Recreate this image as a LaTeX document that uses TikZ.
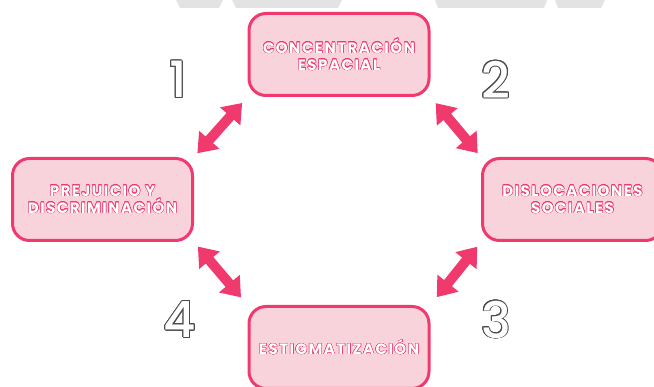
\documentclass[tikz,border=0pt]{standalone}
\usepackage{fontspec}
\setmainfont{Poppins}
\newfontfamily\rotulo{Poppins}[LetterSpace=10]
\newfontfamily\numeral{Poppins}[UprightFont=* Medium]
\usepackage[copies]{contour}
\usetikzlibrary{arrows.meta}
\definecolor{rosa}{HTML}{F03A6E}
\definecolor{rosaclaro}{HTML}{F9D3DC}
\definecolor{grisfondo}{HTML}{E3E3E3}
\definecolor{grisnum}{HTML}{4A4A4A}
\newcommand{\hueco}[1]{\contourlength{0.45pt}\contour{rosa}{#1}}
\newcommand{\numhueco}[1]{\contourlength{0.9pt}\contour{grisnum}{#1}}

\begin{document}
\begin{tikzpicture}[x=1pt,y=-1pt,
  caja/.style={draw=rosa, line width=3pt, fill=rosaclaro, rounded corners=17pt,
    minimum width=180pt, minimum height=82pt, text=white, align=center,
    font=\fontsize{15}{17}\rotulo\bfseries},
  cifra/.style={text=white, font=\fontsize{50}{50}\numeral},
  flecha/.style={rosa, line width=10pt,
    {Triangle[width=26pt,length=18pt]}-{Triangle[width=26pt,length=18pt]}}]
\useasboundingbox (0,0) rectangle (654,387);
% marca gris de fondo
\fill[grisfondo] (176,0) -- (223,0) -- (219,8) -- (180,8) -- cycle;
\fill[grisfondo] (232,0) -- (342,0) -- (338,8) -- (236,8) -- cycle;
\fill[grisfondo] (435,0) -- (547,0) -- (544,8) -- (438,8) -- cycle;
\fill[grisfondo] (555,0) -- (605,0) -- (601,8) -- (558,8) -- cycle;

\node[caja] (conc) at (339,54.5) {\hueco{CONCENTRACIÓN}\\\hueco{ESPACIAL}};
\node[caja] (prej) at (102.5,199.5) {\hueco{PREJUICIO Y}\\\hueco{DISCRIMINACIÓN}};
\node[caja] (disl) at (572.5,199.5) {\hueco{DISLOCACIONES}\\\hueco{SOCIALES}};
\node[caja] (estig) at (339,347.5) {\hueco{ESTIGMATIZACIÓN}};

\draw[flecha, shorten <=5pt, shorten >=8pt] (prej.north east) -- (conc.south west);
\draw[flecha, shorten <=8pt, shorten >=5pt] (conc.south east) -- (disl.north west);
\draw[flecha, shorten <=6pt, shorten >=10pt] (disl.south west) -- (estig.north east);
\draw[flecha, shorten <=6pt, shorten >=10pt] (prej.south east) -- (estig.north west);

\node[cifra] (n1) at (178,80) {\numhueco{1}};
\node[cifra] (n2) at (496,80) {\numhueco{2}};
\node[cifra] (n3) at (496,320) {\numhueco{3}};
\node[cifra] (n4) at (180,320) {\numhueco{4}};
\end{tikzpicture}
\end{document}
